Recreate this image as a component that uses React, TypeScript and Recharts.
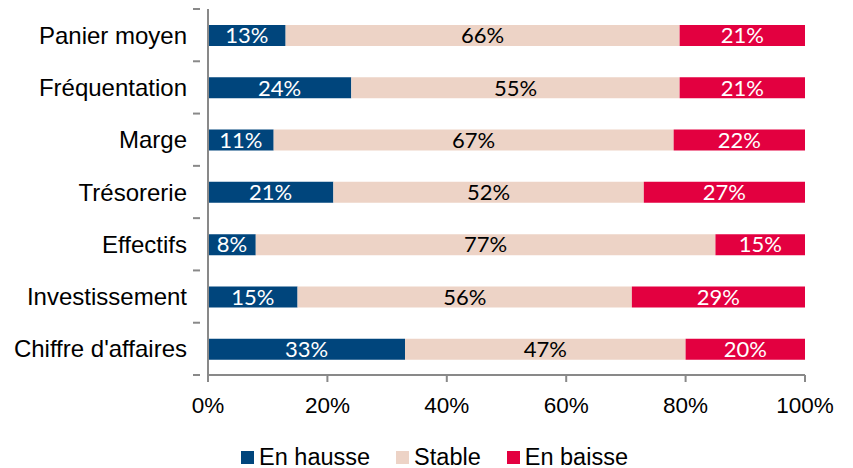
import React from "react";
import { BarChart, Bar, XAxis, YAxis, LabelList, Legend } from "recharts";

const categories = [
  "Panier moyen",
  "Fréquentation",
  "Marge",
  "Trésorerie",
  "Effectifs",
  "Investissement",
  "Chiffre d'affaires",
];
const enHausse = [13, 24, 11, 21, 8, 15, 33];
const stable = [66, 55, 67, 52, 77, 56, 47];
const enBaisse = [21, 21, 22, 27, 15, 29, 20];
const xTicks = [0, 20, 40, 60, 80, 100];

const series = [
  { key: "hausse", name: "En hausse", color: "#00457C", labelColor: "#ffffff" },
  { key: "stable", name: "Stable", color: "#EDD3C6", labelColor: "#000000" },
  { key: "baisse", name: "En baisse", color: "#E30040", labelColor: "#ffffff" },
];

const data = categories.map((name, i) => ({
  name,
  hausse: enHausse[i],
  stable: stable[i],
  baisse: enBaisse[i],
}));

const axisFont = "'Liberation Sans', Arial, sans-serif";

// category tick: label at the band centre, tick mark on the band boundary
const CategoryTick = (props: any) => {
  const { x, y, payload } = props;
  const half = payload && payload.offset ? payload.offset : 26;
  return (
    <g>
      <text
        x={x - 13}
        y={y}
        dy={8.6}
        textAnchor="end"
        fontSize={24}
        fontFamily={axisFont}
        fill="#000"
      >
        {payload.value}
      </text>
      <line x1={x - 7} x2={x} y1={y + half} y2={y + half} stroke="#898989" strokeWidth={2} />
      {payload.index === 0 && (
        <line x1={x - 7} x2={x} y1={y - half} y2={y - half} stroke="#898989" strokeWidth={2} />
      )}
    </g>
  );
};

const PercentTick = (props: any) => {
  const { x, payload } = props;
  return (
    <text
      x={x}
      y={413}
      textAnchor="middle"
      fontSize={22.5}
      fontFamily={axisFont}
      fill="#000"
    >
      {`${payload.value}%`}
    </text>
  );
};

const LegendContent = () => (
  <div
    style={{
      display: "flex",
      justifyContent: "center",
      alignItems: "center",
      height: 28,
      gap: 26,
      fontFamily: axisFont,
      fontSize: 23.5,
      paddingLeft: 64,
      paddingTop: 3,
      color: "#000",
    }}
  >
    {series.map((s) => (
      <div key={s.key} style={{ display: "flex", alignItems: "center" }}>
        <span
          style={{
            display: "inline-block",
            width: 13,
            height: 13,
            background: s.color,
            marginRight: 5,
          }}
        />
        <span>{s.name}</span>
      </div>
    ))}
  </div>
);

export default function App() {
  return (
    <div style={{ position: "absolute", left: 0, top: 0, background: "#fff" }}>
      <BarChart
        width={853}
        height={468}
        data={data}
        layout="vertical"
        margin={{ top: 9, right: 48, left: 0, bottom: 0 }}
      >
        <XAxis
          type="number"
          domain={[0, 100]}
          ticks={xTicks}
          axisLine={{ stroke: "#898989", strokeWidth: 2 }}
          tickLine={{ stroke: "#898989", strokeWidth: 2 }}
          tickSize={7}
          tick={<PercentTick />}
          height={65}
          interval={0}
        />
        <YAxis
          type="category"
          dataKey="name"
          width={208}
          axisLine={{ stroke: "#898989", strokeWidth: 2 }}
          tickLine={false}
          tick={<CategoryTick />}
          interval={0}
        />
        <Legend verticalAlign="bottom" content={<LegendContent />} height={28} />
        {series.map((s) => (
          <Bar
            key={s.key}
            dataKey={s.key}
            name={s.name}
            stackId="a"
            fill={s.color}
            barSize={21}
            isAnimationActive={false}
          >
            <LabelList
              dataKey={s.key}
              position="center"
              formatter={(v: any) => `${v}%`}
              fill={s.labelColor}
              fontSize={22}
              fontFamily="Lato, sans-serif"
            />
          </Bar>
        ))}
      </BarChart>
    </div>
  );
}
